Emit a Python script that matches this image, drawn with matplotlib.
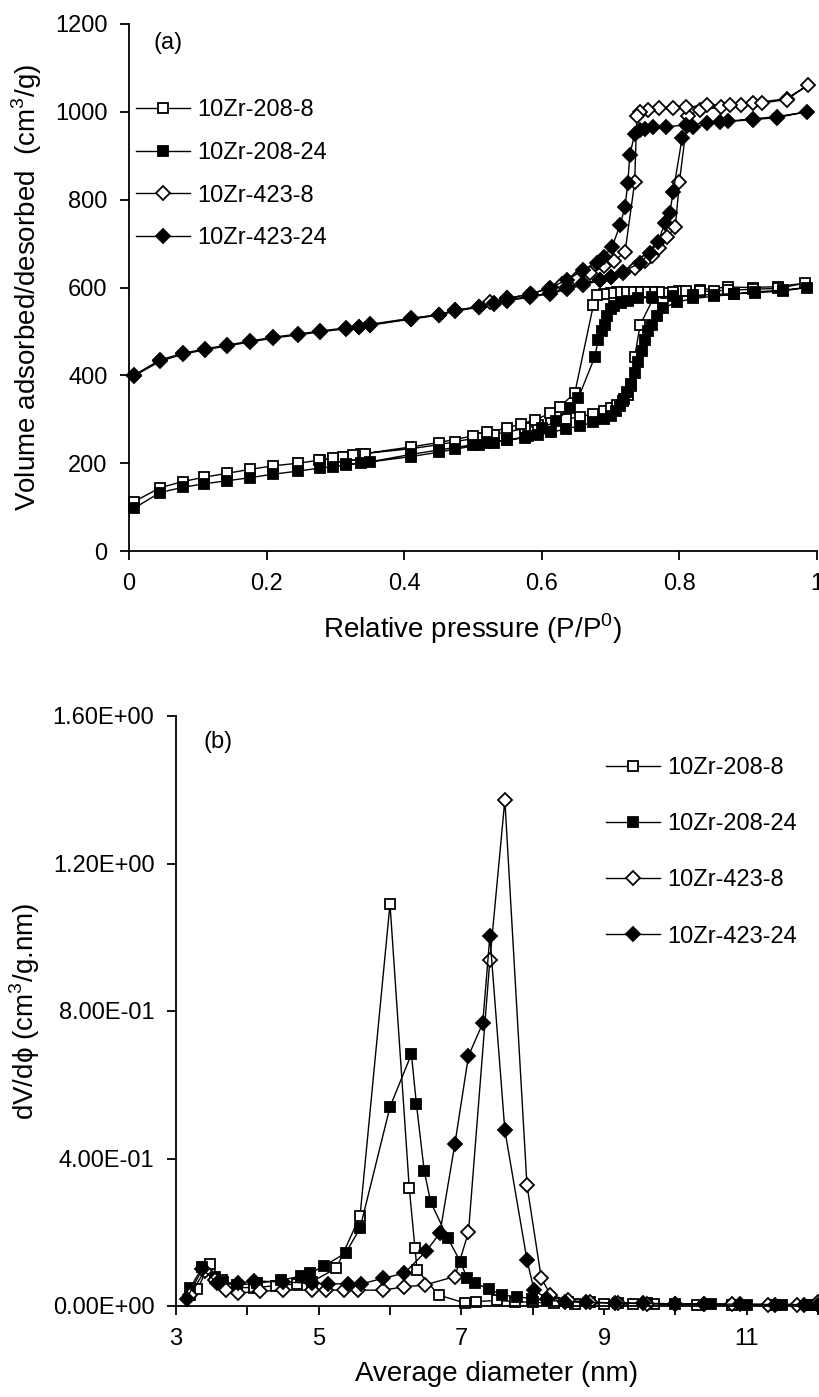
import numpy as np
import matplotlib
matplotlib.use("Agg")
import matplotlib.pyplot as plt
from matplotlib.ticker import MultipleLocator, FuncFormatter

plt.rcParams['font.family'] = ['Liberation Sans', 'DejaVu Sans']
plt.rcParams['mathtext.fontset'] = 'custom'
plt.rcParams['mathtext.rm'] = 'Liberation Sans'

labels = ['10Zr-208-8', '10Zr-208-24', '10Zr-423-8', '10Zr-423-24']

# ---- (a) isotherms: adsorption branch then desorption branch ----
p208_8 = [0.007, 0.045, 0.078, 0.109, 0.143, 0.176, 0.210, 0.246, 0.278, 0.297, 0.315, 0.337,
          0.410, 0.450, 0.474, 0.508, 0.530, 0.550, 0.575, 0.595, 0.613, 0.635, 0.655, 0.675,
          0.690, 0.700, 0.710, 0.718, 0.725, 0.730, 0.735, 0.743, 0.762, 0.780, 0.800, 0.830,
          0.871, 0.907, 0.943, 0.983,
          0.943, 0.907, 0.871, 0.850, 0.830, 0.810, 0.790, 0.770, 0.760, 0.750, 0.740, 0.730,
          0.720, 0.710, 0.700, 0.690, 0.680, 0.675, 0.648, 0.626, 0.612, 0.590, 0.570, 0.550,
          0.520, 0.500, 0.450, 0.410, 0.343, 0.326, 0.311, 0.297, 0.276]
v208_8 = [112, 144, 158, 168, 177, 186, 194, 200, 207, 210, 215, 221,
          233, 242, 249, 258, 265, 271, 279, 286, 293, 300, 306, 312,
          318, 325, 333, 342, 355, 375, 442, 515, 575, 588, 592, 595,
          601, 600, 602, 610,
          598, 596, 594, 592, 591, 591, 590, 590, 590, 590, 590, 590,
          590, 589, 588, 586, 583, 560, 360, 328, 314, 298, 290, 280,
          270, 262, 247, 237, 222, 218, 214, 211, 207]

p208_24 = [0.007, 0.045, 0.078, 0.109, 0.143, 0.176, 0.210, 0.246, 0.278, 0.297, 0.315, 0.337,
           0.410, 0.450, 0.474, 0.508, 0.530, 0.550, 0.575, 0.595, 0.613, 0.635, 0.655, 0.675,
           0.690, 0.700, 0.708, 0.714, 0.719, 0.724, 0.729, 0.735, 0.740, 0.745, 0.750, 0.755,
           0.760, 0.768, 0.776, 0.797, 0.820, 0.850, 0.880, 0.910, 0.950, 0.985,
           0.950, 0.910, 0.880, 0.850, 0.820, 0.790, 0.760, 0.740, 0.725, 0.715, 0.705, 0.700,
           0.695, 0.692, 0.687, 0.682, 0.677, 0.653, 0.641, 0.620, 0.600, 0.580, 0.550, 0.520,
           0.500, 0.450, 0.410, 0.350, 0.315]
v208_24 = [97, 133, 145, 153, 160, 167, 175, 182, 189, 192, 196, 200,
           215, 225, 232, 241, 247, 252, 258, 264, 270, 278, 285, 293,
           300, 308, 318, 330, 345, 362, 380, 405, 430, 455, 480, 500,
           515, 535, 553, 567, 575, 580, 585, 590, 594, 600,
           592, 588, 586, 584, 582, 580, 578, 575, 570, 565, 557, 550,
           535, 515, 500, 480, 442, 348, 325, 295, 280, 262, 252, 247,
           242, 230, 220, 203, 197]

p423_8 = [0.007, 0.045, 0.078, 0.110, 0.143, 0.176, 0.210, 0.246, 0.278, 0.315, 0.335, 0.350,
          0.410, 0.450, 0.474, 0.508, 0.530, 0.550, 0.583, 0.612, 0.637, 0.660, 0.685, 0.700,
          0.718, 0.735, 0.750, 0.760, 0.770, 0.782, 0.794, 0.800, 0.812, 0.830, 0.860, 0.890,
          0.907, 0.956, 0.987,
          0.956, 0.920, 0.874, 0.840, 0.810, 0.790, 0.770, 0.755, 0.743, 0.738, 0.735, 0.721,
          0.705, 0.690, 0.670, 0.650, 0.630, 0.610, 0.585, 0.550, 0.525, 0.508, 0.474, 0.450,
          0.410, 0.350]
v423_8 = [398, 432, 448, 458, 467, 476, 485, 492, 499, 506, 510, 514,
          528, 537, 546, 555, 563, 570, 578, 586, 596, 606, 616, 624,
          634, 645, 660, 672, 690, 715, 738, 840, 990, 1005, 1010, 1015,
          1020, 1030, 1061,
          1028, 1020, 1016, 1016, 1010, 1008, 1008, 1005, 1000, 990, 840, 681,
          660, 648, 632, 620, 608, 597, 586, 575, 566, 556, 548, 538,
          530, 516]

p423_24 = [0.007, 0.045, 0.078, 0.110, 0.143, 0.176, 0.210, 0.246, 0.278, 0.315, 0.335, 0.350,
           0.410, 0.450, 0.474, 0.508, 0.530, 0.550, 0.583, 0.612, 0.637, 0.660, 0.685, 0.700,
           0.718, 0.743, 0.757, 0.769, 0.779, 0.786, 0.791, 0.804, 0.820, 0.859, 0.907, 0.942,
           0.985,
           0.942, 0.907, 0.870, 0.840, 0.810, 0.780, 0.762, 0.750, 0.743, 0.735, 0.728, 0.725,
           0.721, 0.714, 0.702, 0.690, 0.680, 0.660, 0.637, 0.612, 0.583, 0.550]
v423_24 = [400, 435, 450, 460, 469, 478, 487, 494, 501, 508, 511, 515,
           529, 538, 548, 556, 565, 572, 580, 587, 601, 610, 617, 625,
           636, 656, 679, 704, 747, 770, 818, 941, 965, 977, 984, 989,
           1000,
           987, 982, 978, 975, 970, 966, 966, 962, 958, 950, 902, 838,
           784, 743, 692, 670, 656, 640, 617, 600, 585, 575]

# ---- (b) pore size distributions ----
d208_8 = [3.2, 3.3, 3.47, 3.65, 3.85, 4.1, 4.4, 4.7, 4.9, 5.25, 5.58, 6.0, 6.27, 6.35, 6.38,
          6.68, 7.05, 7.2, 7.5, 7.75, 8.0, 8.3, 8.6, 9.0, 9.4, 9.7, 10.3, 10.8, 11.4, 11.9]
f208_8 = [0.03, 0.045, 0.115, 0.07, 0.05, 0.05, 0.055, 0.06, 0.065, 0.103, 0.244, 1.09, 0.32,
          0.157, 0.098, 0.03, 0.008, 0.012, 0.015, 0.012, 0.01, 0.008, 0.006, 0.006, 0.005,
          0.005, 0.004, 0.004, 0.003, 0.003]

d208_24 = [3.2, 3.37, 3.55, 3.66, 3.86, 4.14, 4.47, 4.75, 4.88, 5.07, 5.38, 5.58, 6.0, 6.3,
           6.37, 6.48, 6.57, 6.81, 6.99, 7.08, 7.19, 7.39, 7.57, 7.78, 7.99, 8.2, 8.5, 8.8,
           9.2, 9.6, 10.0, 10.5, 11.0, 11.5, 11.9]
f208_24 = [0.049, 0.106, 0.08, 0.065, 0.057, 0.062, 0.07, 0.081, 0.089, 0.108, 0.144, 0.211,
           0.54, 0.683, 0.548, 0.366, 0.282, 0.184, 0.119, 0.076, 0.062, 0.046, 0.03, 0.025,
           0.02, 0.015, 0.012, 0.01, 0.008, 0.007, 0.006, 0.005, 0.004, 0.004, 0.003]

d423_8 = [3.2, 3.4, 3.55, 3.7, 3.87, 4.18, 4.5, 4.9, 5.1, 5.35, 5.55, 5.9, 6.2, 6.49, 6.91,
          7.1, 7.4, 7.61, 7.92, 8.12, 8.25, 8.5, 8.8, 9.2, 9.6, 10.0, 10.4, 10.8, 11.3, 11.7, 12.0]
f423_8 = [0.03, 0.095, 0.07, 0.043, 0.035, 0.04, 0.043, 0.043, 0.043, 0.043, 0.043, 0.043,
          0.052, 0.057, 0.08, 0.2, 0.938, 1.372, 0.328, 0.076, 0.03, 0.015, 0.01, 0.008,
          0.006, 0.006, 0.005, 0.005, 0.004, 0.004, 0.01]

d423_24 = [3.15, 3.37, 3.58, 3.87, 4.1, 4.5, 4.9, 5.13, 5.41, 5.6, 5.9, 6.2, 6.51, 6.7, 6.91,
           7.1, 7.3, 7.4, 7.61, 7.92, 8.02, 8.2, 8.45, 8.75, 9.15, 9.55, 10.0, 10.4, 10.9,
           11.4, 11.8, 12.0]
f423_24 = [0.02, 0.1, 0.062, 0.062, 0.068, 0.065, 0.062, 0.06, 0.06, 0.06, 0.075, 0.089,
           0.149, 0.198, 0.44, 0.678, 0.767, 1.003, 0.477, 0.125, 0.043, 0.02, 0.012, 0.01,
           0.008, 0.007, 0.006, 0.005, 0.005, 0.004, 0.004, 0.003]

styles = [dict(marker='s', mfc='white'), dict(marker='s', mfc='black'),
          dict(marker='D', mfc='white'), dict(marker='D', mfc='black')]

fig = plt.figure(figsize=(8.2, 13.97), dpi=100)
W, H = 820.0, 1397.0
ax1 = fig.add_axes([129 / W, 1 - 551 / H, (817 - 129) / W, (551 - 24) / H])
ax2 = fig.add_axes([176 / W, 1 - 1306 / H, (818 - 176) / W, (1306 - 716) / H])

tick_fs = 17
for ax in (ax1, ax2):
    for s in ('top', 'right'):
        ax.spines[s].set_visible(False)
    for s in ('left', 'bottom'):
        ax.spines[s].set_linewidth(1.3)
    ax.tick_params(direction='out', length=6.5, width=1.3, labelsize=tick_fs, pad=9)

# panel (a)
top_data = [(p208_8, v208_8), (p208_24, v208_24), (p423_8, v423_8), (p423_24, v423_24)]
for (x, y), st, lab in zip(top_data, styles, labels):
    ms = 7.5 if st['marker'] == 's' else 7
    ax1.plot(x, y, color='black', lw=1.0, mec='black', mew=1.3, ms=ms, label=lab,
             clip_on=False, **st)
ax1.set_xlim(0, 1)
ax1.set_ylim(0, 1200)
ax1.xaxis.set_major_locator(MultipleLocator(0.2))
ax1.yaxis.set_major_locator(MultipleLocator(200))
ax1.xaxis.set_major_formatter(FuncFormatter(lambda v, p: '%g' % round(v, 2)))
ax1.set_xlabel('Relative pressure (P/P$^0$)', fontsize=20, labelpad=12)
ax1.set_ylabel('Volume adsorbed/desorbed  (cm$^3$/g)', fontsize=20, labelpad=8)
ax1.text(168 / W, 1 - 43 / H, '(a)', transform=fig.transFigure, fontsize=17,
         ha='center', va='center')
ax1.legend(loc='upper left', bbox_to_anchor=(136 / W, 1 - 99 / H), bbox_transform=fig.transFigure,
           frameon=False, fontsize=17, handlelength=2.3, handletextpad=0.3,
           labelspacing=0.88, borderpad=0, borderaxespad=0)

# panel (b)
bot_data = [(d208_8, f208_8), (d208_24, f208_24), (d423_8, f423_8), (d423_24, f423_24)]
for (x, y), st, lab in zip(bot_data, styles, labels):
    ms = 7.5 if st['marker'] == 's' else 7
    ax2.plot(x, y, color='black', lw=1.0, mec='black', mew=1.3, ms=ms, label=lab,
             clip_on=False, **st)
ax2.set_xlim(3, 12)
ax2.set_ylim(0, 1.6)
ax2.xaxis.set_major_locator(MultipleLocator(1))
ax2.xaxis.set_major_formatter(FuncFormatter(lambda v, p: '%d' % v if int(round(v)) % 2 == 1 else ''))
ax2.yaxis.set_major_locator(MultipleLocator(0.4))
ax2.yaxis.set_major_formatter(FuncFormatter(lambda v, p: '%.2E' % v))
ax2.set_xlabel('Average diameter (nm)', fontsize=20, labelpad=8)
ax2.set_ylabel('dV/d\u03d5 (cm$^3$/g.nm)', fontsize=20, labelpad=8)
ax2.text(218 / W, 1 - 742 / H, '(b)', transform=fig.transFigure, fontsize=17,
         ha='center', va='center')
ax2.legend(loc='upper left', bbox_to_anchor=(606 / W, 1 - 757 / H), bbox_transform=fig.transFigure,
           frameon=False, fontsize=17, handlelength=2.3, handletextpad=0.3,
           labelspacing=1.45, borderpad=0, borderaxespad=0)

fig.savefig('out.png', dpi=100)
